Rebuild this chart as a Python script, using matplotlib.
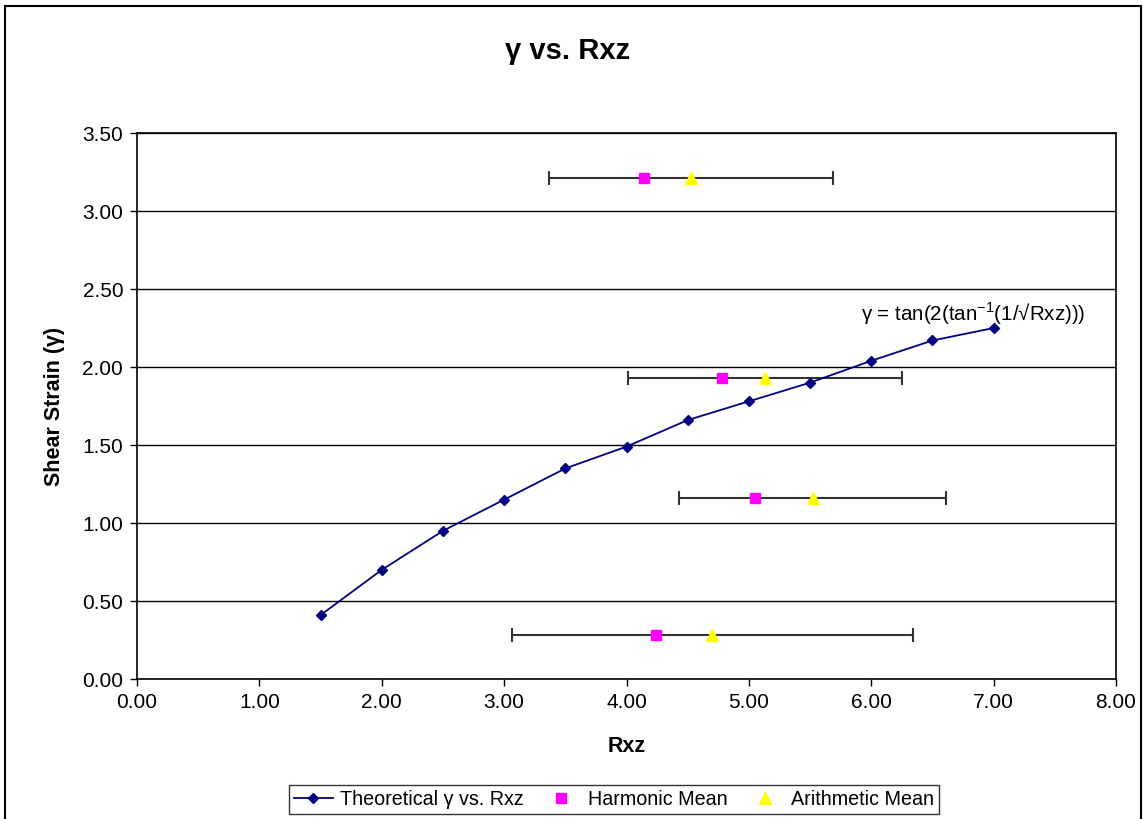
import matplotlib
matplotlib.use('Agg')
import matplotlib.pyplot as plt
from matplotlib.patches import Rectangle

plt.rcParams['font.family'] = ['Liberation Sans', 'DejaVu Sans']
plt.rcParams['mathtext.fontset'] = 'custom'
plt.rcParams['mathtext.rm'] = 'Liberation Sans'

# theoretical curve
rxz = [1.5, 2.0, 2.5, 3.0, 3.5, 4.0, 4.5, 5.0, 5.5, 6.0, 6.5, 7.0]
gamma = [0.41, 0.70, 0.95, 1.15, 1.35, 1.49, 1.66, 1.78, 1.90, 2.04, 2.17, 2.25]

# measured samples
strain = [3.21, 1.93, 1.16, 0.28]
harmonic = [4.14, 4.78, 5.05, 4.24]
arithmetic = [4.53, 5.13, 5.52, 4.70]
arith_err = [1.16, 1.12, 1.09, 1.64]

fig = plt.figure(figsize=(11.43, 8.19), dpi=100)
ax = fig.add_axes([0.1199, 0.1709, 0.8565, 0.6667])

ax.errorbar(arithmetic, strain, xerr=arith_err, fmt='none', ecolor='#333333',
            elinewidth=1.5, capsize=5, capthick=1.5, zorder=3)
l1, = ax.plot(rxz, gamma, color='#000080', lw=1.3, marker='D', ms=5.5,
              label='Theoretical γ vs. Rxz', zorder=4)
l2, = ax.plot(harmonic, strain, ls='none', marker='s', ms=7, color='#FF00FF',
              label='Harmonic Mean', zorder=5)
l3, = ax.plot(arithmetic, strain, ls='none', marker='^', ms=8, color='#FFFF00',
              label='Arithmetic Mean', zorder=5)

ax.text(5.92, 2.34, r'γ = tan(2(tan$^{-1}$(1/√Rxz)))', fontsize=14.8, va='center', ha='left')

ax.set_xlim(0, 8)
ax.set_ylim(0, 3.5)
ax.set_xticks([i * 1.0 for i in range(9)])
ax.set_yticks([i * 0.5 for i in range(8)])
ax.xaxis.set_major_formatter(matplotlib.ticker.FormatStrFormatter('%.2f'))
ax.yaxis.set_major_formatter(matplotlib.ticker.FormatStrFormatter('%.2f'))
ax.tick_params(labelsize=15, direction='out', length=5, width=1, pad=5)
ax.grid(axis='y', color='black', lw=1)
ax.set_axisbelow(True)
for s in ax.spines.values():
    s.set_linewidth(1.2)

ax.set_xlabel('Rxz', fontsize=15.5, fontweight='bold', labelpad=17)
ax.set_ylabel('Shear Strain (γ)', fontsize=15.5, fontweight='bold', labelpad=12)
fig.text(0.4965, 0.938, 'γ vs. Rxz', fontsize=21, fontweight='bold', ha='center', va='center')

leg = fig.legend(handles=[l1, l2, l3], loc='center', bbox_to_anchor=(0.5372, 0.0235),
                 ncol=3, fontsize=14.2, frameon=True, fancybox=False,
                 handlelength=2.0, columnspacing=0.9, borderpad=0.25, handletextpad=0.35)
leg.get_frame().set_edgecolor('black')
leg.get_frame().set_linewidth(1)

# outer chart border
fig.patches.append(Rectangle((5 / 1143, -0.01), 1136 / 1143, 1 - 6 / 819 + 0.01,
                             transform=fig.transFigure, fill=False, ec='black', lw=1.5))

fig.savefig('out.png', dpi=100)
